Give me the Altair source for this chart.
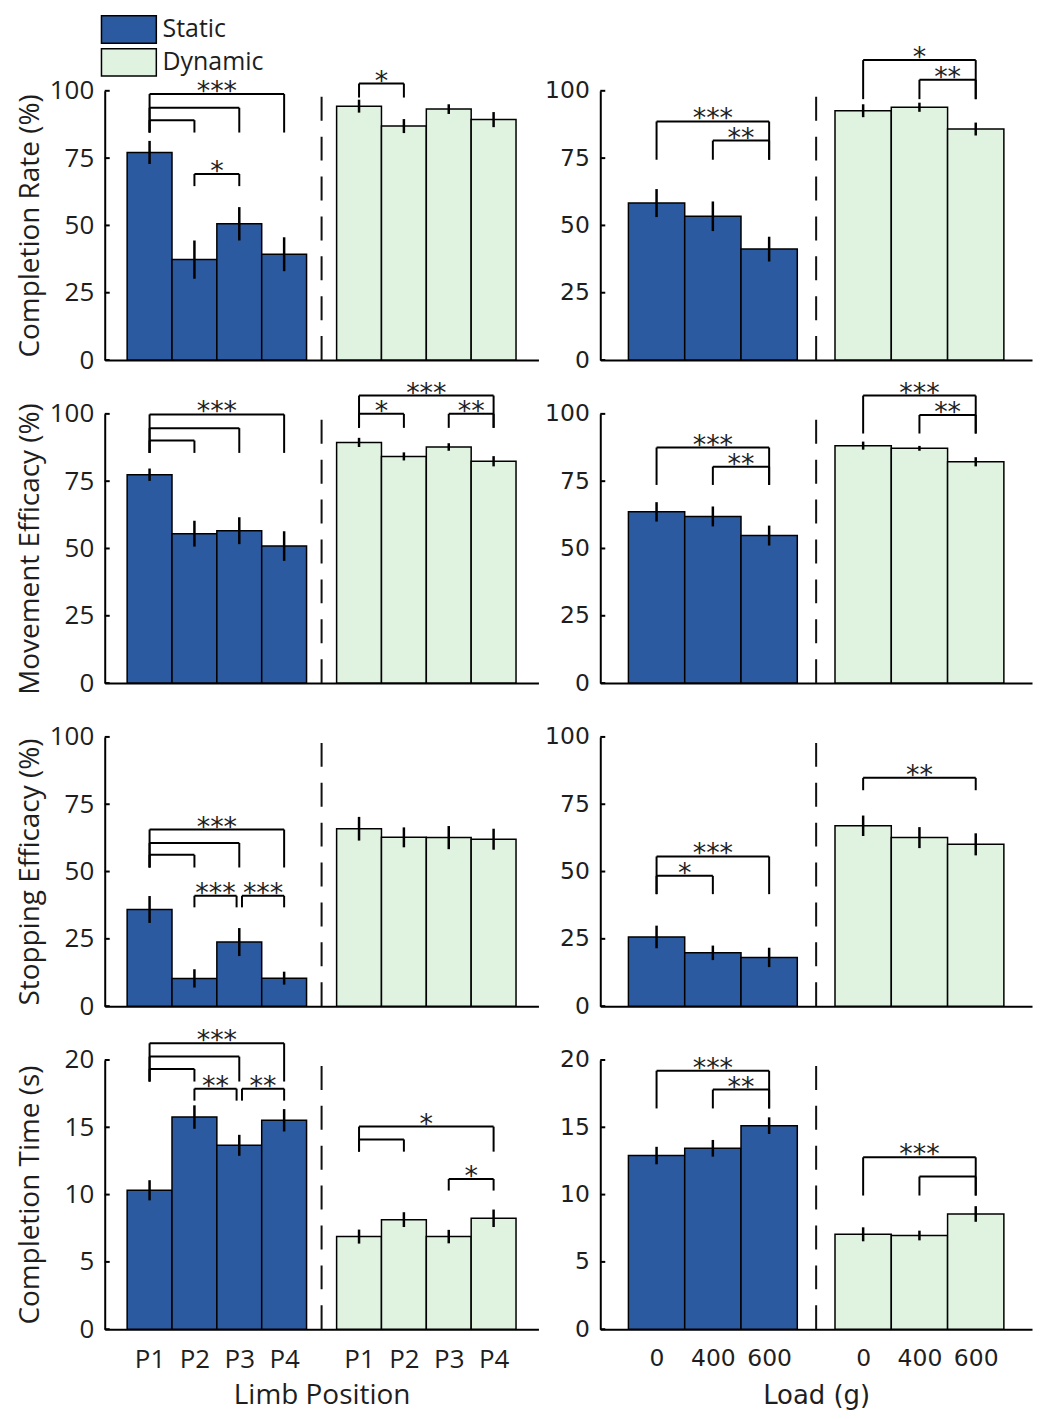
import altair as alt
import pandas as pd

# ---------------- data ----------------
POSITIONS = ["P1", "P2", "P3", "P4"]
LOADS = ["0", "400", "600"]
CONDITIONS = ["Static", "Dynamic"]
METRICS = ["Completion Rate (%)", "Movement Efficacy (%)",
           "Stopping Efficacy (%)", "Completion Time (s)"]
X_TITLES = ["Limb Position", "Load (g)"]
Y_MAX = [100, 100, 100, 20]
Y_TICKS = [[0, 25, 50, 75, 100], [0, 25, 50, 75, 100],
           [0, 25, 50, 75, 100], [0, 5, 10, 15, 20]]

# limb position panels
cr_pos_static = [77.1, 37.3, 50.6, 39.3]
cr_pos_static_err = [4.3, 7.1, 6.2, 6.3]
cr_pos_dynamic = [94.3, 86.9, 93.2, 89.3]
cr_pos_dynamic_err = [2.4, 2.6, 1.8, 2.8]

me_pos_static = [77.4, 55.5, 56.6, 50.9]
me_pos_static_err = [2.3, 4.8, 5.0, 5.5]
me_pos_dynamic = [89.4, 84.2, 87.7, 82.4]
me_pos_dynamic_err = [1.7, 1.5, 1.4, 1.9]

se_pos_static = [35.9, 10.3, 23.8, 10.4]
se_pos_static_err = [5.0, 3.4, 5.2, 2.4]
se_pos_dynamic = [65.9, 62.7, 62.6, 62.0]
se_pos_dynamic_err = [4.4, 3.7, 4.3, 3.9]

ct_pos_static = [10.32, 15.76, 13.66, 15.52]
ct_pos_static_err = [0.75, 0.87, 0.78, 0.83]
ct_pos_dynamic = [6.88, 8.14, 6.88, 8.24]
ct_pos_dynamic_err = [0.52, 0.55, 0.50, 0.65]

# load panels
cr_load_static = [58.3, 53.4, 41.2]
cr_load_static_err = [5.2, 5.5, 4.6]
cr_load_dynamic = [92.6, 93.9, 85.8]
cr_load_dynamic_err = [2.4, 1.7, 2.4]

me_load_static = [63.6, 61.9, 54.8]
me_load_static_err = [3.6, 3.7, 3.7]
me_load_dynamic = [88.2, 87.2, 82.2]
me_load_dynamic_err = [1.5, 0.9, 1.7]

se_load_static = [25.7, 19.8, 18.1]
se_load_static_err = [4.2, 2.7, 3.6]
se_load_dynamic = [67.0, 62.6, 60.1]
se_load_dynamic_err = [3.8, 3.9, 4.1]

ct_load_static = [12.90, 13.44, 15.12]
ct_load_static_err = [0.65, 0.62, 0.62]
ct_load_dynamic = [7.05, 6.96, 8.56]
ct_load_dynamic_err = [0.52, 0.36, 0.58]

SERIES = [
    [(cr_pos_static, cr_pos_static_err, cr_pos_dynamic, cr_pos_dynamic_err),
     (cr_load_static, cr_load_static_err, cr_load_dynamic, cr_load_dynamic_err)],
    [(me_pos_static, me_pos_static_err, me_pos_dynamic, me_pos_dynamic_err),
     (me_load_static, me_load_static_err, me_load_dynamic, me_load_dynamic_err)],
    [(se_pos_static, se_pos_static_err, se_pos_dynamic, se_pos_dynamic_err),
     (se_load_static, se_load_static_err, se_load_dynamic, se_load_dynamic_err)],
    [(ct_pos_static, ct_pos_static_err, ct_pos_dynamic, ct_pos_dynamic_err),
     (ct_load_static, ct_load_static_err, ct_load_dynamic, ct_load_dynamic_err)],
]

# significance brackets: (condition, from bar, to bar, top level, leg bottom, stars)
cr_pos_brackets = [(0, 0, 3, 98.8, 84.5, "***"), (0, 0, 2, 93.7, 84.5, ""),
                   (0, 0, 1, 89.1, 84.5, ""), (0, 1, 2, 69.1, 64.6, "*"),
                   (1, 0, 1, 102.7, 97.5, "*")]
cr_load_brackets = [(0, 0, 2, 88.6, 74.4, "***"), (0, 1, 2, 81.5, 74.4, "**"),
                    (1, 0, 2, 111.4, 96.9, "*"), (1, 1, 2, 104.1, 96.9, "**")]
me_pos_brackets = [(0, 0, 3, 99.8, 85.5, "***"), (0, 0, 2, 94.7, 85.5, ""),
                   (0, 0, 1, 90.1, 85.5, ""), (1, 0, 3, 106.8, 94.8, "***"),
                   (1, 0, 1, 100.0, 94.8, "*"), (1, 2, 3, 100.0, 94.8, "**")]
me_load_brackets = [(0, 0, 2, 87.5, 73.6, "***"), (0, 1, 2, 80.4, 73.6, "**"),
                    (1, 0, 2, 106.8, 92.7, "***"), (1, 1, 2, 99.6, 92.7, "**")]
se_pos_brackets = [(0, 0, 3, 65.6, 51.5, "***"), (0, 0, 2, 60.6, 51.5, ""),
                   (0, 0, 1, 56.2, 51.5, ""), (0, 1, 2, 41.0, 36.7, "***"),
                   (0, 2, 3, 41.0, 36.7, "***")]
se_load_brackets = [(0, 0, 2, 55.6, 41.6, "***"), (0, 0, 1, 48.4, 41.6, "*"),
                    (1, 0, 2, 84.8, 80.2, "**")]
ct_pos_brackets = [(0, 0, 3, 21.24, 18.4, "***"), (0, 0, 2, 20.25, 18.4, ""),
                   (0, 0, 1, 19.33, 18.4, ""), (0, 1, 2, 17.87, 16.98, "**"),
                   (0, 2, 3, 17.87, 16.98, "**"), (1, 0, 3, 15.05, 13.19, "*"),
                   (1, 0, 1, 14.10, 13.19, ""), (1, 2, 3, 11.16, 10.30, "*")]
ct_load_brackets = [(0, 0, 2, 19.2, 16.4, "***"), (0, 1, 2, 17.8, 16.4, "**"),
                    (1, 0, 2, 12.77, 9.93, "***"), (1, 1, 2, 11.34, 9.93, "")]

BRACKETS = [[cr_pos_brackets, cr_load_brackets],
            [me_pos_brackets, me_load_brackets],
            [se_pos_brackets, se_load_brackets],
            [ct_pos_brackets, ct_load_brackets]]

# ---------------- style ----------------
STATIC_C = "#2C5AA0"
DYNAMIC_C = "#E0F3E1"
GAP = 1.67                    # space between static and dynamic groups (bar units)
UNIT_PX = [45.0, 56.5]        # pixels per bar in each column
PANEL_H = 270
FONT = ["Open Sans", "DejaVu Sans"]
TICK_FS = [26, 23.5]
TITLE_FS = [28, 26]
TXT = "#1e1e1e"
ADJ_NUDGE = 0.06              # separation of adjacent brackets that share a bar
LEG_SYM = 27.5                # legend symbol height (px); width is twice this


def bar_positions(n, ci):
    if ci == 0:
        return [round(1 + k, 2) for k in range(n)]
    return [round(n + GAP + k, 2) for k in range(n)]


color_enc = alt.Color(
    "cond:N",
    scale=alt.Scale(domain=CONDITIONS, range=[STATIC_C, DYNAMIC_C]),
    legend=alt.Legend(
        title=None, orient="none", legendX=LEG_SYM / 2 - 4, legendY=-76,
        symbolType="M-2,-1H2V1H-2Z", symbolSize=LEG_SYM ** 2,
        symbolStrokeColor="black", symbolStrokeWidth=1.5, symbolOpacity=1,
        labelFont="Open Sans", labelFontSize=25, labelColor=TXT,
        labelOffset=LEG_SYM / 2 + 33 - LEG_SYM, rowPadding=-2, padding=0,
    ),
)


def make_panel(r, c):
    labels = POSITIONS if c == 0 else LOADS
    n = len(labels)
    xmax = round(2 * n + GAP, 2)
    width = round(xmax * UNIT_PX[c])
    ymax = Y_MAX[r]
    s, se, d, de = SERIES[r][c]

    rows = []
    for ci, (vals, errs) in enumerate([(s, se), (d, de)]):
        xs = bar_positions(n, ci)
        for k in range(n):
            rows.append(dict(cond=CONDITIONS[ci], label=labels[k], x=xs[k],
                             x0=xs[k] - 0.5, x1=xs[k] + 0.5, value=vals[k],
                             lo=vals[k] - errs[k], hi=vals[k] + errs[k]))
    bars_df = pd.DataFrame(rows)

    seg_rows, txt_rows = [], []
    brs = BRACKETS[r][c]
    for (ci, i, j, top, bot, stars) in brs:
        xs = bar_positions(n, ci)
        xa, xb = xs[i], xs[j]
        for (cj, i2, j2, top2, bot2, _s) in brs:
            if cj == ci and top2 == top:
                if i2 == j and j2 != j:
                    xb -= ADJ_NUDGE
                if j2 == i and i2 != i:
                    xa += ADJ_NUDGE
        seg_rows += [dict(xa=xa, xb=xa, ya=bot, yb=top),
                     dict(xa=xa, xb=xb, ya=top, yb=top),
                     dict(xa=xb, xb=xb, ya=bot, yb=top)]
        if stars:
            txt_rows.append(dict(xa=(xa + xb) / 2, ya=top, t=stars))
    seg_df = pd.DataFrame(seg_rows)
    txt_df = pd.DataFrame(txt_rows)

    div_df = pd.DataFrame(dict(x=[n + GAP / 2], y0=[0], y1=[ymax]))
    tick_df = pd.DataFrame(dict(v=Y_TICKS[r]))

    xs_all = bar_positions(n, 0) + bar_positions(n, 1)
    lab_all = labels + labels
    label_expr = ("[" + ",".join("'%s'" % l for l in lab_all) + "][indexof(["
                  + ",".join(repr(v) for v in xs_all) + "], datum.value)]")
    bottom = (r == 3)

    xscale = alt.Scale(domain=[0, xmax], nice=False, zero=False)
    yscale = alt.Scale(domain=[0, ymax], nice=False, zero=True)

    x_axis = alt.Axis(
        values=xs_all, labelExpr=label_expr, labels=bottom, ticks=False, tickSize=0,
        grid=False, domainColor="black", domainWidth=2, labelOverlap=False,
        labelFlush=False, labelFont=FONT[c], labelFontSize=TICK_FS[c],
        labelColor=TXT, labelPadding=17, labelBaseline="top",
        title=X_TITLES[c] if bottom else None, titleFont=FONT[c],
        titleFontSize=TITLE_FS[c], titleFontWeight="normal", titleColor=TXT,
        titleX=width / 2, titleY=75, titleBaseline="alphabetic", titleAlign="center",
    )
    y_axis = alt.Axis(
        values=Y_TICKS[r], ticks=False, tickSize=0, grid=False,
        domainColor="black", domainWidth=2, labelFlush=False, labelOverlap=False,
        labelFont=FONT[c], labelFontSize=TICK_FS[c], labelColor=TXT, labelPadding=11,
        title=METRICS[r] if c == 0 else None, titleFont=FONT[c],
        titleFontSize=TITLE_FS[c], titleFontWeight="normal", titleColor=TXT,
        titleAngle=270, titleX=-66, titleY=PANEL_H / 2, titleBaseline="alphabetic",
        titleAlign="center",
    )

    def X(f):
        return alt.X(f, scale=xscale, axis=x_axis)

    def Y(f):
        return alt.Y(f, scale=yscale, axis=y_axis)

    bars = alt.Chart(bars_df).mark_rect(stroke="black", strokeWidth=1.5).encode(
        x=X("x0:Q"), x2="x1:Q", y=Y("value:Q"), y2=alt.datum(0), color=color_enc,
    )
    errs = alt.Chart(bars_df).mark_rule(color="black", strokeWidth=2.5).encode(
        x=X("x:Q"), y=Y("lo:Q"), y2="hi:Q",
    )
    divider = alt.Chart(div_df).mark_rule(color="#111", strokeWidth=2,
                                          strokeDash=[24, 16]).encode(
        x=X("x:Q"), y=Y("y0:Q"), y2="y1:Q",
    )
    segs = alt.Chart(seg_df).mark_rule(color="black", strokeWidth=2).encode(
        x=X("xa:Q"), x2="xb:Q", y=Y("ya:Q"), y2="yb:Q",
    )
    stars = alt.Chart(txt_df).mark_text(font="DejaVu Sans", fontSize=27,
                                        baseline="alphabetic", dy=6, color=TXT).encode(
        x=X("xa:Q"), y=Y("ya:Q"), text="t:N",
    )
    ticks = alt.Chart(tick_df).mark_rule(color="black", strokeWidth=2).encode(
        x=alt.value(0), x2=alt.value(5), y=Y("v:Q"),
    )
    return alt.layer(bars, errs, divider, segs, stars, ticks).properties(
        width=width, height=PANEL_H)


panels = [make_panel(r, c) for r in range(4) for c in range(2)]

chart = alt.concat(
    *panels, columns=2, spacing={"row": 54, "column": 62}, bounds="flush"
).configure_view(strokeWidth=0).properties(
    padding={"left": 8, "top": 5, "right": 5, "bottom": 5}
)

chart.save("out.html", embed_options={"renderer": "svg", "actions": False})
